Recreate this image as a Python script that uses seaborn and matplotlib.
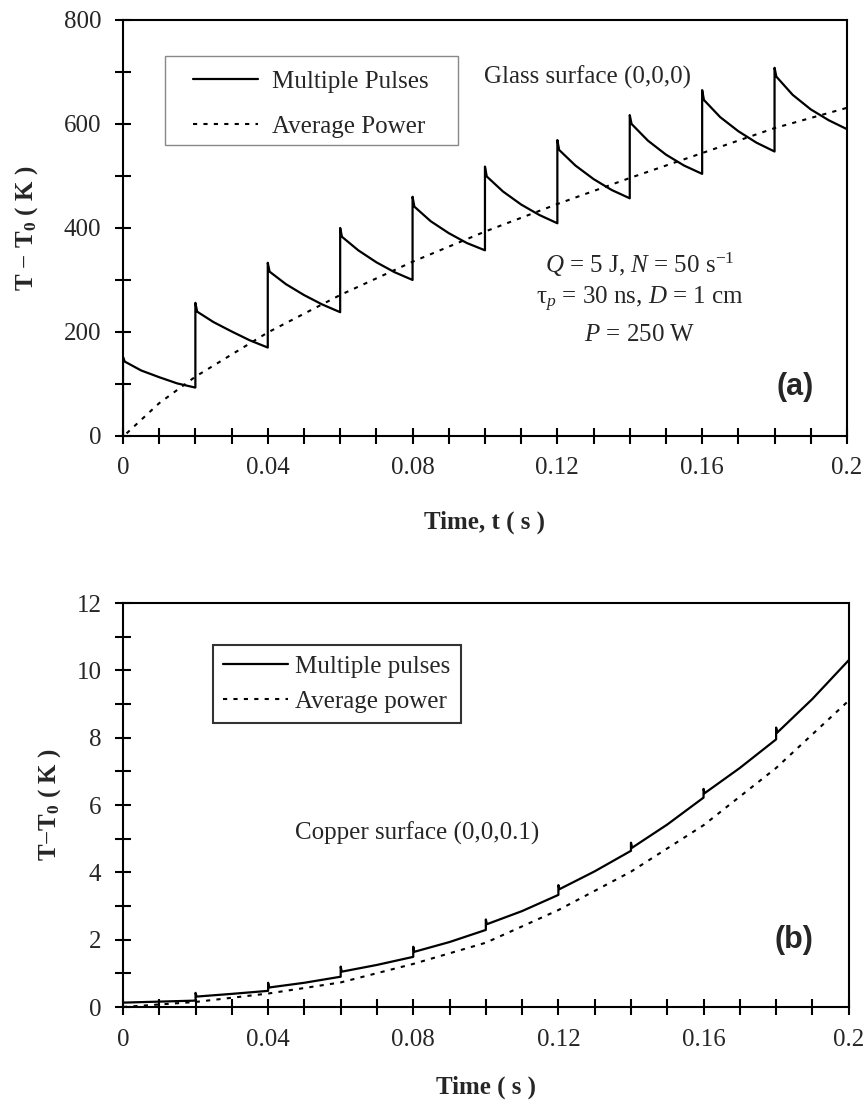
import numpy as np
import pandas as pd
import matplotlib
matplotlib.use('Agg')
import matplotlib.pyplot as plt
from matplotlib.patches import Rectangle
from matplotlib.ticker import MultipleLocator, FixedLocator
import seaborn as sns

# ---- (a) glass surface ----
glass_pulse_t = [0.000, 0.000, 0.0005, 0.005, 0.010, 0.015, 0.020,
                 0.020, 0.0205, 0.025, 0.030, 0.035, 0.040,
                 0.040, 0.0405, 0.045, 0.050, 0.055, 0.060,
                 0.060, 0.0605, 0.065, 0.070, 0.075, 0.080,
                 0.080, 0.0805, 0.085, 0.090, 0.095, 0.100,
                 0.100, 0.1005, 0.105, 0.110, 0.115, 0.120,
                 0.120, 0.1205, 0.125, 0.130, 0.135, 0.140,
                 0.140, 0.1405, 0.145, 0.150, 0.155, 0.160,
                 0.160, 0.1605, 0.165, 0.170, 0.175, 0.180,
                 0.180, 0.1805, 0.185, 0.190, 0.195, 0.200]
glass_pulse_T = [0, 152, 143, 126, 113, 101, 93,
                 256, 239, 219, 201, 184, 170,
                 333, 316, 292, 271, 253, 238,
                 400, 383, 357, 334, 315, 300,
                 460, 441, 413, 390, 371, 357,
                 518, 499, 470, 445, 425, 409,
                 569, 550, 520, 494, 473, 457,
                 617, 600, 568, 541, 520, 504,
                 665, 646, 613, 586, 564, 547,
                 708, 691, 656, 628, 607, 590]
glass_avg_t = [0.001, 0.01, 0.02, 0.04, 0.06, 0.08, 0.10, 0.12, 0.14, 0.16, 0.18, 0.20]
glass_avg_T = [5, 63, 114, 199, 271, 335, 393, 446, 496, 544, 592, 631]

# ---- (b) copper surface ----
copper_pulse_t = [0.000, 0.010, 0.020, 0.020, 0.0203, 0.030, 0.040,
                  0.040, 0.0403, 0.050, 0.060, 0.060, 0.0603, 0.070, 0.080,
                  0.080, 0.0803, 0.090, 0.100, 0.100, 0.1003, 0.110, 0.120,
                  0.120, 0.1203, 0.130, 0.140, 0.140, 0.1403, 0.150, 0.160,
                  0.160, 0.1603, 0.170, 0.180, 0.180, 0.1803, 0.190, 0.200]
copper_pulse_T = [0.13, 0.16, 0.19, 0.42, 0.31, 0.39, 0.48,
                  0.72, 0.58, 0.72, 0.90, 1.20, 1.05, 1.25, 1.49,
                  1.79, 1.64, 1.93, 2.29, 2.60, 2.46, 2.85, 3.33,
                  3.62, 3.50, 4.03, 4.64, 4.88, 4.73, 5.42, 6.22,
                  6.48, 6.35, 7.10, 7.95, 8.30, 8.15, 9.15, 10.30]
copper_avg_t = [0.0, 0.02, 0.04, 0.06, 0.08, 0.10, 0.12, 0.14, 0.16, 0.18, 0.20]
copper_avg_T = [0.0, 0.15, 0.40, 0.73, 1.28, 1.91, 2.88, 4.02, 5.40, 7.10, 9.10]

x_ticks = [0, 0.04, 0.08, 0.12, 0.16, 0.2]
x_labels = ['0', '0.04', '0.08', '0.12', '0.16', '0.2']

sns.set_theme(style='white')
plt.rcParams['font.family'] = ['Liberation Serif', 'DejaVu Serif']
plt.rcParams['mathtext.fontset'] = 'custom'
plt.rcParams['mathtext.rm'] = 'Liberation Serif'
plt.rcParams['mathtext.it'] = 'Liberation Serif:italic'
plt.rcParams['mathtext.bf'] = 'Liberation Serif:bold'

FS = 18
DOT = (0, (2, 3))

fig = plt.figure(figsize=(8.66, 11.02), dpi=100)
ax1 = fig.add_axes([0.142, 0.6044, 0.836, 0.3775])
ax2 = fig.add_axes([0.142, 0.0862, 0.838, 0.3666])


def style_axes(ax, ymax, ymajor, yminor):
    ax.set_xlim(0, 0.2)
    ax.set_ylim(0, ymax)
    ax.xaxis.set_major_locator(FixedLocator(x_ticks))
    ax.set_xticklabels(x_labels)
    ax.xaxis.set_minor_locator(MultipleLocator(0.01))
    ax.yaxis.set_major_locator(MultipleLocator(ymajor))
    ax.yaxis.set_minor_locator(MultipleLocator(yminor))
    ax.tick_params(which='both', direction='inout', length=11, width=1.5,
                   color='black', left=True, bottom=True, labelsize=FS, pad=10)
    for s in ax.spines.values():
        s.set_color('black')
        s.set_linewidth(1.5)
    ax.grid(False)


# (a)
df_a1 = pd.DataFrame({'t': glass_pulse_t, 'T': glass_pulse_T})
df_a2 = pd.DataFrame({'t': glass_avg_t, 'T': glass_avg_T})
sns.lineplot(data=df_a1, x='t', y='T', sort=False, estimator=None, ax=ax1,
             color='black', lw=1.6, label='Multiple Pulses')
sns.lineplot(data=df_a2, x='t', y='T', sort=False, estimator=None, ax=ax1,
             color='black', lw=1.5, linestyle=DOT, label='Average Power')
style_axes(ax1, 800, 200, 100)
ax1.set_xlabel('Time, t ( s )', fontsize=FS, fontweight='bold')
ax1.set_ylabel(r'T $-$ T$_\mathbf{0}$ ( K )', fontsize=FS, fontweight='bold')
ax1.xaxis.set_label_coords(0.5, -0.18)
ax1.yaxis.set_label_coords(-0.115, 0.5)
# legend box of panel (a) is wider than the text padding would give
ax1.add_patch(Rectangle((0.058, 0.6995), 0.4047, 0.214, transform=ax1.transAxes,
                        fill=True, facecolor='white', edgecolor='#888888',
                        lw=1.0, zorder=4))
leg = ax1.legend(loc='upper left', bbox_to_anchor=(0.097, 0.878), fontsize=FS,
                 frameon=False, handlelength=2.6, handletextpad=0.55,
                 borderpad=0, borderaxespad=0, labelspacing=0.88)
leg.set_zorder(5)
ax1.text(0.642, 0.863, 'Glass surface (0,0,0)', transform=ax1.transAxes,
         fontsize=FS, ha='center', va='center')
ax1.text(0.714, 0.411, r'$Q$ = 5 J, $N$ = 50 s$^{-1}$', transform=ax1.transAxes,
         fontsize=FS, ha='center', va='center')
ax1.text(0.714, 0.327, r'$\mathrm{\tau}_p$ = 30 ns, $D$ = 1 cm', transform=ax1.transAxes,
         fontsize=FS, ha='center', va='center')
ax1.text(0.714, 0.243, r'$P$ = 250 W', transform=ax1.transAxes,
         fontsize=FS, ha='center', va='center')
ax1.text(0.928, 0.118, '(a)', transform=ax1.transAxes, fontsize=22,
         fontweight='bold', family='Liberation Sans', ha='center', va='center')

# (b)
df_b1 = pd.DataFrame({'t': copper_pulse_t, 'T': copper_pulse_T})
df_b2 = pd.DataFrame({'t': copper_avg_t, 'T': copper_avg_T})
sns.lineplot(data=df_b1, x='t', y='T', sort=False, estimator=None, ax=ax2,
             color='black', lw=1.6, label='Multiple pulses')
sns.lineplot(data=df_b2, x='t', y='T', sort=False, estimator=None, ax=ax2,
             color='black', lw=1.5, linestyle=DOT, label='Average power')
style_axes(ax2, 12, 2, 1)
ax2.set_xlabel('Time ( s )', fontsize=FS, fontweight='bold')
ax2.set_ylabel(r'T$-$T$_\mathbf{0}$ ( K )', fontsize=FS, fontweight='bold')
ax2.xaxis.set_label_coords(0.5, -0.17)
ax2.yaxis.set_label_coords(-0.083, 0.5)
leg2 = ax2.legend(loc='upper left', bbox_to_anchor=(0.124, 0.896), fontsize=FS,
                  frameon=True, fancybox=False, edgecolor='black',
                  handlelength=2.6, handletextpad=0.3, borderpad=0.4,
                  labelspacing=0.5, borderaxespad=0)
leg2.get_frame().set_linewidth(1.5)
ax2.text(0.406, 0.43, 'Copper surface (0,0,0.1)', transform=ax2.transAxes,
         fontsize=FS, ha='center', va='center')
ax2.text(0.925, 0.166, '(b)', transform=ax2.transAxes, fontsize=22,
         fontweight='bold', family='Liberation Sans', ha='center', va='center')

fig.savefig('out.png', dpi=100, facecolor='white')
